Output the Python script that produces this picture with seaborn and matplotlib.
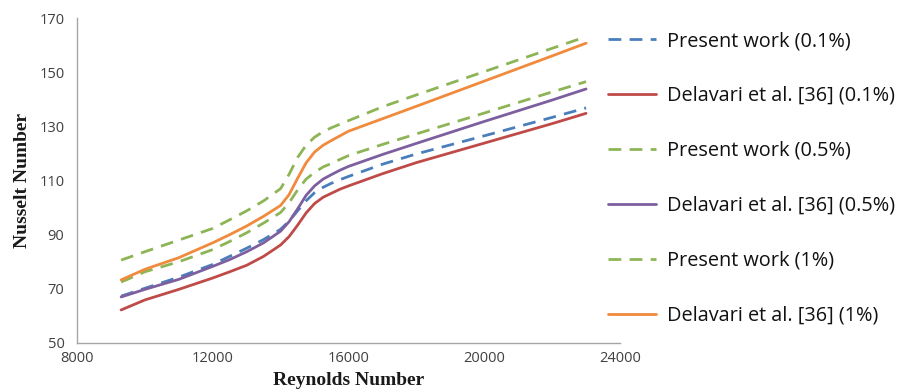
import matplotlib
matplotlib.use("Agg")
import matplotlib.pyplot as plt
import seaborn as sns
import pandas as pd

reynolds = [9300, 10000, 11000, 12000, 12500, 13000, 13500, 14000, 14250, 14500,
            14750, 15000, 15250, 15500, 15750, 16000, 17000, 18000, 20000, 22000, 23000]

present_01 = [67.3, 70.2, 74.3, 79.0, 82.0, 85.0, 88.2, 92.0, 95.0, 98.8,
              102.5, 105.5, 107.5, 109.0, 110.3, 111.5, 116.0, 119.8, 126.5, 133.3, 136.8]
delavari_01 = [62.2, 65.9, 69.8, 74.0, 76.3, 78.7, 82.0, 86.2, 89.3, 93.5,
               98.0, 101.5, 103.8, 105.3, 106.8, 108.0, 112.5, 116.6, 123.8, 131.0, 134.8]
present_05 = [72.5, 76.3, 80.0, 84.5, 87.5, 90.7, 94.3, 98.2, 101.8, 106.5,
              110.5, 113.0, 115.0, 116.3, 117.8, 119.2, 123.3, 127.2, 134.9, 142.7, 146.5]
delavari_05 = [67.0, 69.8, 73.5, 78.3, 80.8, 83.7, 87.0, 91.3, 94.8, 99.5,
               104.5, 108.0, 110.5, 112.2, 113.8, 115.2, 119.6, 123.7, 131.8, 139.7, 143.8]
present_1 = [80.6, 83.7, 88.0, 92.3, 95.5, 98.8, 102.5, 107.0, 112.3, 118.5,
             123.0, 126.0, 128.0, 129.5, 130.8, 132.1, 137.2, 141.6, 150.2, 158.8, 163.1]
delavari_1 = [73.3, 77.2, 81.5, 87.0, 90.0, 93.2, 96.8, 100.8, 104.8, 110.8,
              116.5, 120.5, 123.0, 124.8, 126.5, 128.2, 132.8, 137.4, 146.7, 156.0, 160.7]

labels = ["Present work (0.1%)", "Delavari et al. [36] (0.1%)",
          "Present work (0.5%)", "Delavari et al. [36] (0.5%)",
          "Present work (1%)", "Delavari et al. [36] (1%)"]
series = [present_01, delavari_01, present_05, delavari_05, present_1, delavari_1]
colors = ["#4A7EBB", "#BE4B48", "#8DB556", "#7D5FA0", "#8DB556", "#F08A3C"]
dashed = [True, False, True, False, True, False]

x_ticks = [8000, 12000, 16000, 20000, 24000]
y_ticks = [50, 70, 90, 110, 130, 150, 170]

sns.set_theme(style="white")
plt.rcParams["font.family"] = ["Open Sans", "DejaVu Sans"]

fig = plt.figure(figsize=(9.04, 3.90), dpi=100)
ax = fig.add_axes([77 / 904, 1 - 343 / 390, (620 - 77) / 904, (343 - 18) / 390])

for lab, vals, col, d in zip(labels, series, colors, dashed):
    df = pd.DataFrame({"Re": reynolds, "Nu": vals})
    ls = (0, (4.6, 3.0)) if d else "-"
    sns.lineplot(data=df, x="Re", y="Nu", ax=ax, color=col, linewidth=2.0,
                 linestyle=ls, label=lab)

ax.set_xlim(8000, 24000)
ax.set_ylim(50, 170)
ax.set_xticks(x_ticks)
ax.set_yticks(y_ticks)
ax.set_xticklabels([str(t) for t in x_ticks])
ax.set_yticklabels([str(t) for t in y_ticks])
ax.tick_params(axis="both", length=0, labelsize=10.5, labelcolor="#404040")
ax.tick_params(axis="y", pad=9)
ax.tick_params(axis="x", pad=6)
for side in ["top", "right"]:
    ax.spines[side].set_visible(False)
for side in ["left", "bottom"]:
    ax.spines[side].set_color("#A6A6A6")
    ax.spines[side].set_linewidth(1.0)

ax.set_xlabel("Reynolds Number", family="Liberation Serif", fontweight="bold",
              fontsize=14, color="#1a1a1a", labelpad=4)
ax.set_ylabel("Nusselt Number", family="Liberation Serif", fontweight="bold",
              fontsize=14, color="#1a1a1a", labelpad=6)

leg = ax.legend(loc="upper left", bbox_to_anchor=(608 / 904, 1 - 31 / 390),
                bbox_transform=fig.transFigure, frameon=False, borderaxespad=0,
                borderpad=0, handlelength=2.4, handletextpad=0.55,
                labelspacing=1.76, fontsize=14.3)
for t in leg.get_texts():
    t.set_color("#111111")

fig.savefig("out.png", dpi=100)
